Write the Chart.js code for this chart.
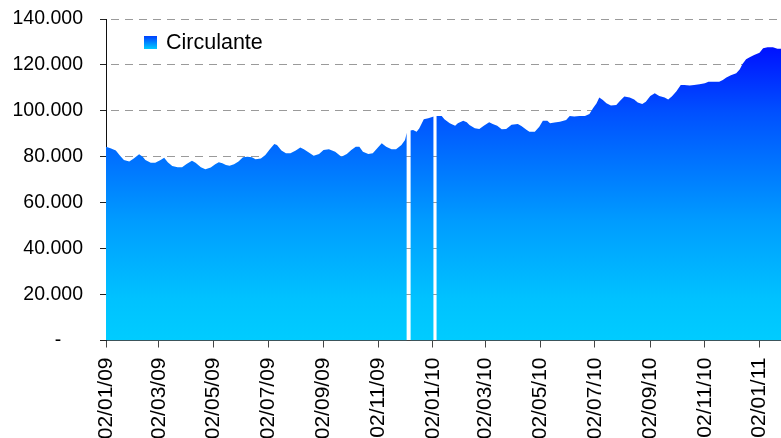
<!DOCTYPE html>
<html lang="es">
<head>
<meta charset="utf-8">
<title>Circulante</title>
<script src="https://cdn.jsdelivr.net/npm/chart.js@4.4.1/dist/chart.umd.min.js"></script>
<style>
  html, body { margin: 0; padding: 0; background: #ffffff; }
  #grafico { display: block; }
</style>
</head>
<body>
<canvas id="grafico" width="781" height="438"></canvas>
<script>
// Serie diaria del circulante; cada valor va con su día contado desde el 02/01/09.
const fechaInicio = '02/01/09';
const diasFinales = 754;

const dias = [
  0, 5, 11, 15, 20, 26, 31, 37, 41, 44, 50, 55, 61, 65, 69, 74, 80, 85, 90, 96,
  100, 106, 111, 117, 122, 126, 130, 134, 138, 143, 148, 153, 158, 163, 167, 173, 178, 183, 188, 191,
  196, 201, 206, 212, 217, 221, 227, 232, 238, 243, 249, 256, 263, 269, 274, 279, 283, 287, 293, 298,
  303, 308, 313, 319, 324, 330, 334, 336, 338, 340, 343, 347, 350, 355, 360, 366, 367, 369, 375, 378,
  384, 390, 393, 399, 403, 406, 412, 417, 422, 428, 432, 437, 442, 447, 453, 460, 464, 470, 473, 479,
  484, 488, 493, 496, 501, 507, 510, 514, 518, 523, 529, 535, 540, 544, 548, 551, 555, 559, 564, 570,
  574, 579, 585, 590, 594, 599, 603, 608, 613, 618, 624, 628, 632, 637, 642, 646, 652, 657, 663, 669,
  673, 680, 685, 689, 693, 698, 704, 708, 711, 715, 719, 724, 730, 734, 739, 745, 750, 754
];

// Días sin dato (null) cortan el área.
const circulante = [
  84400, 83700, 82700, 80800, 78600, 77900, 79300, 81100, 80000, 78600, 77400, 77400, 78600, 79600, 77600, 76000, 75400, 75400, 76900, 78300,
  77400, 75400, 74600, 75300, 76700, 77600, 77200, 76400, 76100, 76700, 77900, 79800, 80000, 79800, 78900, 79300, 80800, 83300, 85600, 85100,
  82700, 81500, 81500, 82700, 84000, 83300, 81800, 80400, 81200, 83000, 83300, 82200, 80000, 81200, 83000, 84400, 84400, 82200, 81200, 81500,
  83700, 85900, 84400, 83300, 83300, 85100, 87300, 90500, null, 91400, 91700, 90900, 92400, 96300, 96800, 97500, null, 97800, 97800, 96300,
  94600, 93500, 94600, 95700, 95000, 93800, 92400, 92100, 93500, 95000, 94300, 93500, 92000, 92100, 94000, 94300, 93400, 91700, 90900, 90900,
  93100, 95700, 95700, 94600, 94900, 95300, 95600, 96000, 97800, 97500, 97800, 97800, 98600, 101100, 103300, 105800, 104700, 103300, 102300, 102600,
  104300, 106200, 105800, 105000, 103600, 103000, 104000, 106500, 107700, 106500, 105800, 105000, 106200, 108400, 111300, 111300, 111000, 111300, 111600, 112000,
  112700, 112700, 112700, 113400, 114500, 115500, 116400, 118100, 120400, 122500, 123300, 124300, 125300, 127300, 127700, 127700, 127000, 127000
];

const etiquetasX = [
  '02/01/09', '02/03/09', '02/05/09', '02/07/09', '02/09/09', '02/11/09', '02/01/10',
  '02/03/10', '02/05/10', '02/07/10', '02/09/10', '02/11/10', '02/01/11'
];

const valoresY = [0, 20000, 40000, 60000, 80000, 100000, 120000, 140000];

const FUENTE = "'Liberation Sans', Arial, sans-serif";

function aUTC(txt) {
  const [d, m, a] = txt.split('/').map(Number);
  return Date.UTC(2000 + a, m - 1, d);
}
function diaDe(txt) {
  return Math.round((aUTC(txt) - aUTC(fechaInicio)) / 864e5);
}
const posEtiquetas = etiquetasX.map(diaDe);

function miles(v) {
  if (v === 0) return '-\u00a0\u00a0\u00a0\u00a0';
  return String(v).replace(/\B(?=(\d{3})+(?!\d))/g, '.');
}

// Sin márgenes extra por las etiquetas: el área de trazado queda fija.
function sinMargenes(scale) {
  scale.paddingTop = 0;
  scale.paddingBottom = 0;
  scale.paddingLeft = 0;
  scale.paddingRight = 0;
}

// Degradado azul -> cian de arriba abajo del área de trazado.
function degradado(ctx, area) {
  const g = ctx.createLinearGradient(0, area.top, 0, area.bottom);
  g.addColorStop(0.00, '#0000ff');
  g.addColorStop(0.09, '#0012ff');
  g.addColorStop(0.29, '#0050ff');
  g.addColorStop(0.43, '#0070ff');
  g.addColorStop(0.63, '#009cff');
  g.addColorStop(0.87, '#00c2ff');
  g.addColorStop(1.00, '#00ccff');
  return g;
}

// Leyenda dibujada dentro del área de trazado.
const leyenda = {
  id: 'leyendaInterna',
  afterDraw(chart) {
    const ctx = chart.ctx;
    const ds = chart.data.datasets[0];
    const x = 144, y = 36, lado = 13;
    ctx.save();
    const g = ctx.createLinearGradient(0, y, 0, y + lado);
    g.addColorStop(0, '#0040ff');
    g.addColorStop(1, '#00ccff');
    ctx.fillStyle = g;
    ctx.fillRect(x, y, lado, lado);
    ctx.fillStyle = '#000000';
    ctx.font = '21.5px ' + FUENTE;
    ctx.textAlign = 'left';
    ctx.textBaseline = 'middle';
    ctx.fillText(ds.label, 166, y + lado / 2 + 0.5);
    ctx.restore();
  }
};

new Chart(document.getElementById('grafico'), {
  type: 'line',
  data: {
    datasets: [{
      label: 'Circulante',
      data: dias.map((d, i) => ({ x: d, y: circulante[i] })),
      fill: 'origin',
      spanGaps: false,
      borderWidth: 0,
      borderColor: 'rgba(0,0,0,0)',
      pointRadius: 0,
      pointHoverRadius: 0,
      tension: 0,
      backgroundColor(context) {
        const area = context.chart.chartArea;
        if (!area) return '#0070ff';
        return degradado(context.chart.ctx, area);
      }
    }]
  },
  options: {
    responsive: false,
    animation: false,
    devicePixelRatio: 1,
    layout: { autoPadding: false, padding: { top: 19, left: 0, right: 0, bottom: 0 } },
    plugins: { legend: { display: false }, tooltip: { enabled: false } },
    events: [],
    scales: {
      x: {
        type: 'linear',
        min: 0,
        max: diasFinales,
        afterBuildTicks(scale) {
          scale.ticks = posEtiquetas.map(v => ({ value: v }));
        },
        afterFit(scale) { scale.height = 97.5; sinMargenes(scale); },
        ticks: {
          autoSkip: false,
          minRotation: 90,
          maxRotation: 90,
          padding: 10,
          color: '#000000',
          font: { family: FUENTE, size: 21 },
          callback(value) {
            const i = posEtiquetas.indexOf(value);
            return i >= 0 ? etiquetasX[i] : '';
          }
        },
        grid: {
          drawOnChartArea: false,
          drawTicks: true,
          tickLength: 7,
          tickColor: '#444444',
          tickWidth: 1
        },
        border: { display: true, color: '#444444', width: 1 }
      },
      y: {
        type: 'linear',
        min: 0,
        max: 140000,
        afterBuildTicks(scale) {
          scale.ticks = valoresY.map(v => ({ value: v }));
        },
        afterFit(scale) { scale.width = 106; sinMargenes(scale); },
        ticks: {
          padding: 17,
          color: '#000000',
          font: { family: FUENTE, size: 19.5 },
          callback: v => miles(v)
        },
        grid: {
          color: c => (c.tick && c.tick.value === 0 ? 'rgba(0,0,0,0)' : '#9a9a9a'),
          lineWidth: 1,
          tickLength: 6,
          tickColor: '#222222',
          tickBorderDash: [],
          tickWidth: 1
        },
        border: { display: true, color: '#111111', width: 1, dash: [8, 6], dashOffset: -4 }
      }
    }
  },
  plugins: [leyenda]
});
</script>
</body>
</html>
